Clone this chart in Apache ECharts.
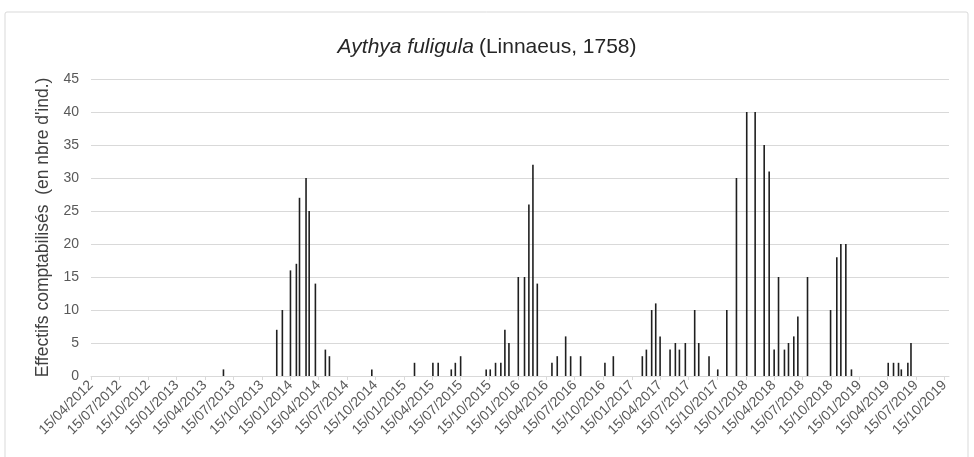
<!DOCTYPE html>
<html>
<head>
<meta charset="utf-8">
<script src="https://cdn.jsdelivr.net/npm/echarts@6/dist/echarts.min.js"></script>
<style>
  html, body { margin: 0; padding: 0; background: #fff; }
  #chart { width: 974px; height: 457px; }
</style>
</head>
<body>
<div id="chart"></div>
<script>
// dates of the counts
var dates = [
  '2013-06-14', '2013-12-02', '2013-12-20', '2014-01-15', '2014-02-03', '2014-02-13',
  '2014-03-06', '2014-03-16', '2014-04-05', '2014-05-07', '2014-05-20', '2014-10-03',
  '2015-02-17', '2015-04-17', '2015-05-04', '2015-06-15', '2015-06-28', '2015-07-15',
  '2015-10-05', '2015-10-18', '2015-11-04', '2015-11-21', '2015-12-04', '2015-12-17',
  '2016-01-16', '2016-02-05', '2016-02-19', '2016-03-03', '2016-03-17', '2016-05-03',
  '2016-05-20', '2016-06-16', '2016-07-02', '2016-08-03', '2016-10-20', '2016-11-16',
  '2017-02-17', '2017-03-02', '2017-03-19', '2017-04-01', '2017-04-15', '2017-05-17',
  '2017-06-03', '2017-06-16', '2017-07-05', '2017-08-04', '2017-08-17', '2017-09-19',
  '2017-10-17', '2017-11-15', '2017-12-16', '2018-01-18', '2018-02-14', '2018-03-15',
  '2018-03-31', '2018-04-16', '2018-04-30', '2018-05-19', '2018-06-01', '2018-06-18',
  '2018-07-01', '2018-08-01', '2018-10-14', '2018-11-03', '2018-11-16', '2018-12-02',
  '2018-12-20', '2019-04-17', '2019-05-04', '2019-05-20', '2019-05-29', '2019-06-19',
  '2019-06-29'
];
var counts = [
  1, 7, 10, 16, 17, 27,
  30, 25, 14, 4, 3, 1,
  2, 2, 2, 1, 2, 3,
  1, 1, 2, 2, 7, 5,
  15, 15, 26, 32, 14, 2,
  3, 6, 3, 3, 2, 3,
  3, 4, 10, 11, 6, 4,
  5, 4, 5, 10, 5, 3,
  1, 10, 30, 40, 40, 35,
  31, 4, 15, 4, 5, 6,
  9, 15, 10, 18, 20, 20,
  1, 2, 2, 2, 1, 2,
  5
];
// x axis tick labels
var tickDates = [
  '2012-04-15', '2012-07-15', '2012-10-15', '2013-01-15', '2013-04-15', '2013-07-15',
  '2013-10-15', '2014-01-15', '2014-04-15', '2014-07-15', '2014-10-15', '2015-01-15',
  '2015-04-15', '2015-07-15', '2015-10-15', '2016-01-15', '2016-04-15', '2016-07-15',
  '2016-10-15', '2017-01-15', '2017-04-15', '2017-07-15', '2017-10-15', '2018-01-15',
  '2018-04-15', '2018-07-15', '2018-10-15', '2019-01-15', '2019-04-15', '2019-07-15',
  '2019-10-15'
];
var yTicks = [0, 5, 10, 15, 20, 25, 30, 35, 40, 45];

var chart = echarts.init(document.getElementById('chart'));
function toTime(d) { return +echarts.time.parse(d); }
var tickValues = tickDates.map(toTime);
var seriesData = dates.map(function (d, i) { return [toTime(d), counts[i]]; });

function pad(n) { return n < 10 ? '0' + n : '' + n; }

var option = {
  animation: false,
  backgroundColor: '#fff',
  textStyle: { fontFamily: 'Liberation Sans, Arial, sans-serif' },
  graphic: [{
    type: 'rect',
    shape: { x: 5, y: 12, width: 963, height: 460, r: 2 },
    style: { fill: 'none', stroke: '#d9d9d9', lineWidth: 1 },
    z: -1
  }],
  title: {
    text: '{i|Aythya fuligula} {n|(Linnaeus, 1758)}',
    left: 'center',
    top: 32,
    textStyle: {
      rich: {
        i: { fontSize: 21, fontStyle: 'italic', fontWeight: 'normal', color: '#262626', fontFamily: 'Liberation Sans, Arial, sans-serif' },
        n: { fontSize: 21, fontWeight: 'normal', color: '#262626', fontFamily: 'Liberation Sans, Arial, sans-serif' }
      }
    }
  },
  grid: {
    left: 91,
    right: 25,
    top: 79,
    bottom: 81
  },
  xAxis: {
    type: 'value',
    min: toTime('2012-04-15'),
    max: toTime('2019-10-29'),
    axisLine: { show: true, lineStyle: { color: '#d9d9d9', width: 1 } },
    axisTick: {
      show: true,
      length: 4,
      customValues: tickValues,
      lineStyle: { color: '#d9d9d9' }
    },
    axisLabel: {
      customValues: tickValues,
      rotate: 45,
      fontSize: 14,
      color: '#595959',
      margin: 7,
      formatter: function (val) {
        var d = new Date(val);
        return pad(d.getDate()) + '/' + pad(d.getMonth() + 1) + '/' + d.getFullYear();
      }
    },
    splitLine: { show: false }
  },
  yAxis: {
    type: 'value',
    min: yTicks[0],
    max: yTicks[yTicks.length - 1],
    interval: 5,
    name: 'Effectifs comptabilisés  (en nbre d\'ind.)',
    nameLocation: 'middle',
    nameGap: 38,
    nameTextStyle: { fontSize: 17.5, color: '#404040' },
    axisLine: { show: false },
    axisTick: { show: false },
    axisLabel: { fontSize: 14, color: '#595959', margin: 12 },
    splitLine: { lineStyle: { color: '#d9d9d9', width: 1 } }
  },
  series: [{
    type: 'bar',
    data: seriesData,
    barWidth: 1.6,
    itemStyle: { color: '#1f1f1f' }
  }]
};
chart.setOption(option);
</script>
</body>
</html>
